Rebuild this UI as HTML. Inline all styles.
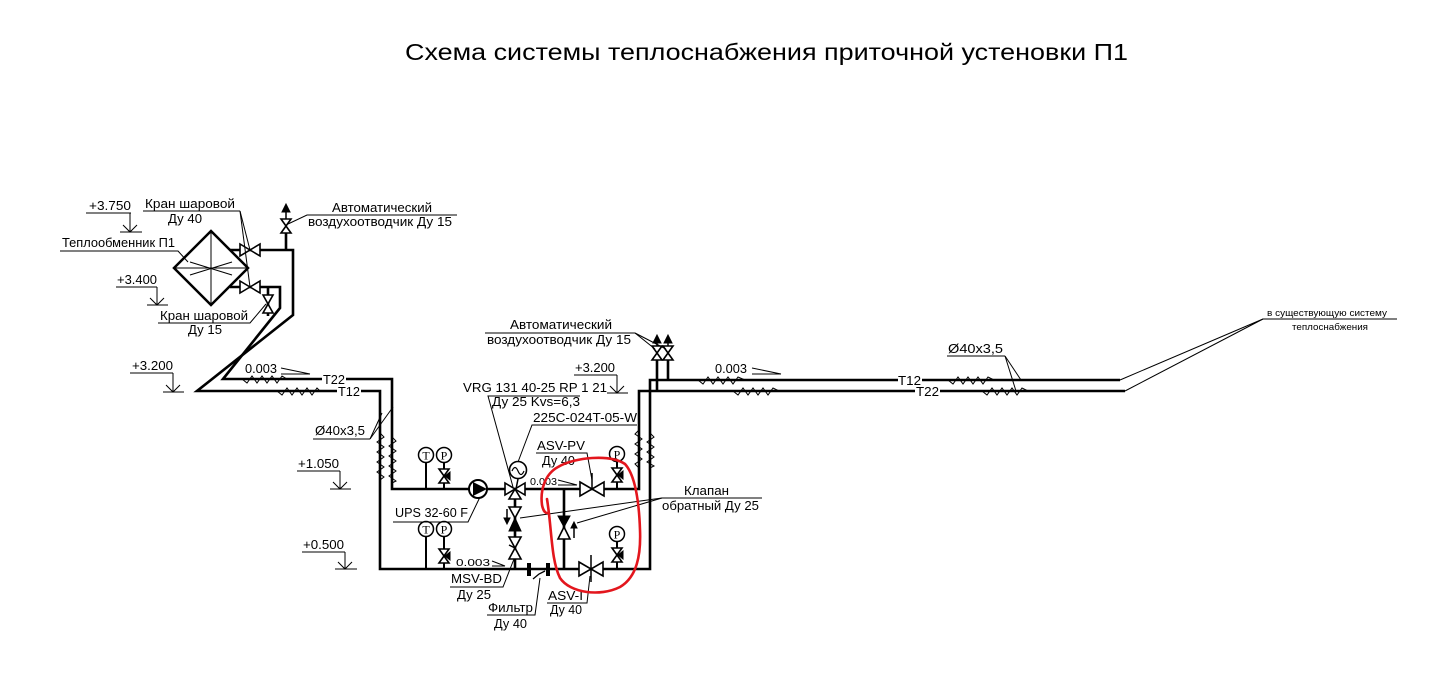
<!DOCTYPE html>
<html><head><meta charset="utf-8">
<style>
html,body{margin:0;padding:0;background:#fff;}
svg{display:block;}
text{font-family:"Liberation Sans","DejaVu Sans",sans-serif;fill:#000;}
.serif{font-family:"Liberation Serif","DejaVu Serif",serif;}
</style></head>
<body>
<svg width="1429" height="690" viewBox="0 0 1429 690" xmlns="http://www.w3.org/2000/svg">
<rect width="1429" height="690" fill="#fff"/>

<!-- Title -->
<text x="405" y="60" font-size="23" textLength="723" lengthAdjust="spacingAndGlyphs">Схема системы теплоснабжения приточной устеновки П1</text>

<g fill="none" stroke="#000" stroke-linecap="butt" stroke-linejoin="miter">
<!-- ===== Pipes (thick) ===== -->
<g stroke-width="2.6">
  <polyline points="230,250 293,250 293,315 197,391 337,391"/>
  <polyline points="361,391 380,391 380,569 650,569 650,380 898,380"/>
  <line x1="922" y1="380" x2="1120" y2="380"/>
  <polyline points="230,287 280,287 280,308 223,379 322,379"/>
  <polyline points="346,379 392,379 392,489 639,489 639,391 915,391"/>
  <line x1="940" y1="391" x2="1125" y2="391"/>
  <line x1="268" y1="287" x2="268" y2="316"/>
  <line x1="286" y1="250" x2="286" y2="233"/>
  <line x1="657" y1="360" x2="657" y2="391"/>
  <line x1="668" y1="360" x2="668" y2="380"/>
  <line x1="515" y1="489" x2="515" y2="569"/>
  <line x1="564" y1="489" x2="564" y2="569"/>
</g>

<!-- gauge stems -->
<g stroke-width="2">
  <line x1="426" y1="462" x2="426" y2="489"/>
  <line x1="444" y1="462" x2="444" y2="489"/>
  <line x1="426" y1="536" x2="426" y2="569"/>
  <line x1="444" y1="536" x2="444" y2="569"/>
  <line x1="617" y1="461" x2="617" y2="489"/>
  <line x1="617" y1="541" x2="617" y2="569"/>
</g>

<!-- ===== Heat exchanger ===== -->
<polygon points="211,231 248,268 211,305 174,268" fill="#fff" stroke-width="2.5"/>
<g stroke-width="1">
  <line x1="174" y1="268" x2="248" y2="268"/>
  <line x1="211" y1="231" x2="211" y2="305"/>
  <line x1="190" y1="262" x2="232" y2="275"/>
  <line x1="190" y1="275" x2="232" y2="262"/>
</g>

<!-- ===== Valves ===== -->
<g fill="#fff" stroke-width="1.6">
  <polygon points="240,244 260,256 260,244 240,256"/>
  <polygon points="240,281 260,293 260,281 240,293"/>
  <polygon points="263,295 273,313 263,313 273,295"/>
  <polygon points="281,219 291,233 281,233 291,219"/>
  <polygon points="652,346 662,360 652,360 662,346"/>
  <polygon points="663,346 673,360 663,360 673,346"/>
  <polygon points="439,469 449,483 439,483 449,469"/>
  <polygon points="439,549 449,563 439,563 449,549"/>
  <polygon points="612,468 622,482 612,482 622,468"/>
  <polygon points="612,548 622,562 612,562 622,548"/>
  <polygon points="580,482 604,496 604,482 580,496"/>
  <polygon points="579,562 603,576 603,562 579,576"/>
  <polygon points="509,537 521,559 509,559 521,537"/>
  <polygon points="505,483 505,495 515,489"/>
  <polygon points="525,483 525,495 515,489"/>
  <polygon points="509,499 521,499 515,489"/>
  <polygon points="509,507 521,507 515,518"/>
  <polygon points="564,527 558,539 570,539"/>
</g>
<g fill="#000" stroke="#000" stroke-width="1">
  <polygon points="515,518 509,531 521,531"/>
  <polygon points="558,516 570,516 564,527"/>
  <polygon points="445,476 450,472 450,480"/>
  <polygon points="445,556 450,552 450,560"/>
  <polygon points="618,475 623,471 623,479"/>
  <polygon points="618,555 623,551 623,559"/>
  <polygon points="286,204 282,212 290,212"/>
  <polygon points="657,335 653,343 661,343"/>
  <polygon points="668,335 664,343 672,343"/>
  <polygon points="507,524 504,518 510,518"/>
  <polygon points="574,522 571,528 577,528"/>
</g>
<g stroke-width="1.5">
  <line x1="286" y1="219" x2="286" y2="210"/>
  <line x1="657" y1="346" x2="657" y2="341"/>
  <line x1="668" y1="346" x2="668" y2="341"/>
  <line x1="507" y1="509" x2="507" y2="519"/>
  <line x1="574" y1="538" x2="574" y2="527"/>
  <line x1="592" y1="489" x2="592" y2="473"/>
  <line x1="591" y1="555" x2="591" y2="582"/>
  <line x1="509" y1="545" x2="515" y2="548"/>
  <line x1="516" y1="489" x2="518" y2="479"/>
</g>

<circle cx="518" cy="470" r="8.5" fill="#fff" stroke-width="1.6"/>
<path d="M512,471 q3,-7 6,0 t6,0" stroke-width="1.2"/>

<circle cx="478" cy="489" r="9" fill="#fff" stroke-width="2"/>
<polygon points="473,482 473,496 487,489" fill="#000" stroke="none"/>

<g stroke-width="4">
  <line x1="529" y1="563" x2="529" y2="576"/>
  <line x1="548" y1="563" x2="548" y2="576"/>
</g>
<polyline points="533,579 539,574 545,571" stroke-width="1.3"/>

<g fill="#fff" stroke-width="1.5">
  <circle cx="426" cy="455" r="7.5"/>
  <circle cx="444" cy="455" r="7.5"/>
  <circle cx="426" cy="529" r="7.5"/>
  <circle cx="444" cy="529" r="7.5"/>
  <circle cx="617" cy="454" r="7.5"/>
  <circle cx="617" cy="534" r="7.5"/>
</g>

<g stroke-width="1">
  <polyline points="380,433 384,437 377,442 384,447 377,452 384,457 377,462 384,467 377,472 384,477 380,480"/>
  <polyline points="392,437 396,441 389,446 396,451 389,456 396,461 389,466 396,471 389,476 396,481 392,483"/>
  <polyline points="639,430 635,434 642,439 635,444 642,449 635,454 642,459 635,464 639,468"/>
  <polyline points="650,433 654,437 647,442 654,447 647,452 654,457 647,462 654,466 650,468"/>
  <polyline points="242,379 247,383 252,376 257,383 262,376 267,383 272,376 277,383 282,376 287,379"/>
  <polyline points="277,391 282,395 287,388 292,395 297,388 302,395 307,388 312,395 317,388 320,391"/>
  <polyline points="698,380 703,384 708,377 713,384 718,377 723,384 728,377 733,384 738,377 745,380"/>
  <polyline points="948,380 953,384 958,377 963,384 968,377 973,384 978,377 983,384 988,377 994,380"/>
  <polyline points="733,391 738,395 743,388 748,395 753,388 758,395 763,388 768,395 773,388 779,391"/>
  <polyline points="982,391 987,395 992,388 997,395 1002,388 1007,395 1012,388 1017,395 1022,388 1028,391"/>
</g>

<g stroke-width="1">
  <line x1="281" y1="368" x2="310" y2="374"/><line x1="281" y1="374" x2="310" y2="374"/>
  <line x1="752" y1="368" x2="781" y2="374"/><line x1="752" y1="374" x2="781" y2="374"/>
  <line x1="558" y1="480" x2="577" y2="485"/><line x1="558" y1="485" x2="577" y2="485"/>
  <line x1="492" y1="561" x2="505" y2="566"/><line x1="492" y1="566" x2="505" y2="566"/>
</g>

<g stroke-width="1">
  <polyline points="86,213 131,213"/><line x1="130" y1="213" x2="130" y2="232"/><line x1="120" y1="232" x2="142" y2="232"/><polyline points="123,225 130,232 137,225"/>
  <polyline points="116,287 157,287"/><line x1="157" y1="287" x2="157" y2="305"/><line x1="147" y1="305" x2="168" y2="305"/><polyline points="150,298 157,305 164,298"/>
  <polyline points="130,373 173,373"/><line x1="173" y1="373" x2="173" y2="392"/><line x1="163" y1="392" x2="184" y2="392"/><polyline points="166,385 173,392 180,385"/>
  <polyline points="297,471 340,471"/><line x1="340" y1="471" x2="340" y2="489"/><line x1="330" y1="489" x2="351" y2="489"/><polyline points="333,482 340,489 347,482"/>
  <polyline points="302,552 345,552"/><line x1="345" y1="552" x2="345" y2="569"/><line x1="335" y1="569" x2="357" y2="569"/><polyline points="338,562 345,569 352,562"/>
  <polyline points="574,375 617,375"/><line x1="617" y1="375" x2="617" y2="393"/><line x1="607" y1="393" x2="628" y2="393"/><polyline points="610,386 617,393 624,386"/>
</g>

<g stroke-width="1">
  <line x1="143" y1="211" x2="240" y2="211"/>
  <line x1="240" y1="211" x2="250" y2="250"/>
  <line x1="240" y1="211" x2="250" y2="287"/>
  <polyline points="60,251 178,251 188,262"/>
  <polyline points="158,323 250,323 266,304"/>
  <polyline points="457,215 307,215 288,224"/>
  <polyline points="313,439 370,439"/>
  <line x1="370" y1="439" x2="382" y2="413"/>
  <line x1="370" y1="439" x2="393" y2="407"/>
  <polyline points="580,396 488,396 513,487"/>
  <polyline points="637,425 532,425 518,462"/>
  <polyline points="536,453 587,453 592,480"/>
  <polyline points="393,522 468,522 480,497"/>
  <polyline points="450,587 503,587 514,559"/>
  <polyline points="487,615 535,615 540,578"/>
  <polyline points="547,603 587,603 590,576"/>
  <line x1="662" y1="498" x2="762" y2="498"/>
  <line x1="662" y1="498" x2="520" y2="518"/>
  <line x1="662" y1="498" x2="577" y2="523"/>
  <line x1="485" y1="333" x2="635" y2="333"/>
  <line x1="635" y1="333" x2="655" y2="349"/>
  <line x1="635" y1="333" x2="666" y2="349"/>
  <line x1="947" y1="356" x2="1005" y2="356"/>
  <line x1="1005" y1="356" x2="1021" y2="380"/>
  <line x1="1005" y1="356" x2="1016" y2="391"/>
  <line x1="1263" y1="319" x2="1397" y2="319"/>
  <line x1="1263" y1="319" x2="1120" y2="380"/>
  <line x1="1263" y1="319" x2="1125" y2="391"/>
</g>
</g>

<g font-size="12" text-anchor="middle">
  <text class="serif" x="426" y="459.5">T</text>
  <text class="serif" x="444" y="459.5">P</text>
  <text class="serif" x="426" y="533.5">T</text>
  <text class="serif" x="444" y="533.5">P</text>
  <text class="serif" x="617" y="458.5">P</text>
  <text class="serif" x="617" y="538.5">P</text>
</g>

<g font-size="13.2">
  <text x="89" y="210" textLength="42" lengthAdjust="spacingAndGlyphs">+3.750</text>
  <text x="117" y="284" textLength="40" lengthAdjust="spacingAndGlyphs">+3.400</text>
  <text x="132" y="370" textLength="41" lengthAdjust="spacingAndGlyphs">+3.200</text>
  <text x="298" y="468" textLength="41" lengthAdjust="spacingAndGlyphs">+1.050</text>
  <text x="303" y="549" textLength="41" lengthAdjust="spacingAndGlyphs">+0.500</text>
  <text x="575" y="372" textLength="40" lengthAdjust="spacingAndGlyphs">+3.200</text>

  <text x="145" y="208" textLength="90" lengthAdjust="spacingAndGlyphs">Кран шаровой</text>
  <text x="168" y="223" textLength="34" lengthAdjust="spacingAndGlyphs">Ду 40</text>
  <text x="62" y="247" textLength="113" lengthAdjust="spacingAndGlyphs">Теплообменник П1</text>
  <text x="160" y="320" textLength="88" lengthAdjust="spacingAndGlyphs">Кран шаровой</text>
  <text x="188" y="334" textLength="34" lengthAdjust="spacingAndGlyphs">Ду 15</text>
  <text x="332" y="212" textLength="100" lengthAdjust="spacingAndGlyphs">Автоматический</text>
  <text x="308" y="226" textLength="144" lengthAdjust="spacingAndGlyphs">воздухоотводчик Ду 15</text>

  <text x="245" y="373" textLength="32" lengthAdjust="spacingAndGlyphs">0.003</text>
  <text x="323" y="384" textLength="22" lengthAdjust="spacingAndGlyphs">T22</text>
  <text x="338" y="396" textLength="22" lengthAdjust="spacingAndGlyphs">T12</text>
  <text x="315" y="435" textLength="50" lengthAdjust="spacingAndGlyphs">Ø40x3,5</text>

  <text x="463" y="392" textLength="144" lengthAdjust="spacingAndGlyphs">VRG 131 40-25 RP 1 21</text>
  <text x="492" y="406" textLength="88" lengthAdjust="spacingAndGlyphs">Ду 25 Kvs=6,3</text>
  <text x="533" y="422" textLength="104" lengthAdjust="spacingAndGlyphs">225C-024T-05-W</text>
  <text x="537" y="450" textLength="48" lengthAdjust="spacingAndGlyphs">ASV-PV</text>
  <text x="542" y="465" textLength="33" lengthAdjust="spacingAndGlyphs">Ду 40</text>
  <text x="395" y="517" textLength="73" lengthAdjust="spacingAndGlyphs">UPS 32-60 F</text>
  <text x="451" y="583" textLength="51" lengthAdjust="spacingAndGlyphs">MSV-BD</text>
  <text x="457" y="599" textLength="34" lengthAdjust="spacingAndGlyphs">Ду 25</text>
  <text x="488" y="612" textLength="45" lengthAdjust="spacingAndGlyphs">Фильтр</text>
  <text x="494" y="628" textLength="33" lengthAdjust="spacingAndGlyphs">Ду 40</text>
  <text x="548" y="600" textLength="35" lengthAdjust="spacingAndGlyphs">ASV-I</text>
  <text x="550" y="614" textLength="32" lengthAdjust="spacingAndGlyphs">Ду 40</text>
  <text x="684" y="495" textLength="45" lengthAdjust="spacingAndGlyphs">Клапан</text>
  <text x="662" y="510" textLength="97" lengthAdjust="spacingAndGlyphs">обратный Ду 25</text>

  <text x="510" y="329" textLength="102" lengthAdjust="spacingAndGlyphs">Автоматический</text>
  <text x="487" y="344" textLength="144" lengthAdjust="spacingAndGlyphs">воздухоотводчик Ду 15</text>
  <text x="715" y="373" textLength="32" lengthAdjust="spacingAndGlyphs">0.003</text>
  <text x="898" y="385" textLength="23" lengthAdjust="spacingAndGlyphs">T12</text>
  <text x="916" y="396" textLength="23" lengthAdjust="spacingAndGlyphs">T22</text>
  <text x="948" y="353" textLength="55" lengthAdjust="spacingAndGlyphs">Ø40x3,5</text>
</g>
<text x="530" y="485" font-size="10" textLength="27" lengthAdjust="spacingAndGlyphs">0.003</text>
<text x="456" y="566" font-size="10.5" textLength="34" lengthAdjust="spacingAndGlyphs">0.003</text>
<text x="1267" y="316" font-size="9.5" textLength="120" lengthAdjust="spacingAndGlyphs">в существующую систему</text>
<text x="1292" y="330" font-size="9.5" textLength="76" lengthAdjust="spacingAndGlyphs">теплоснабжения</text>

<path d="M547,499 C552,530 551,560 560,578 C570,593 600,597 620,587 C637,577 641,555 640,530 C639,500 635,475 625,464 C610,454 575,457 558,467 C545,474 540,490 542,505 C543,510 545,513 547,513"
  fill="none" stroke="#e3161d" stroke-width="2.6" stroke-linecap="round" stroke-linejoin="round"/>
</svg>
</body></html>
